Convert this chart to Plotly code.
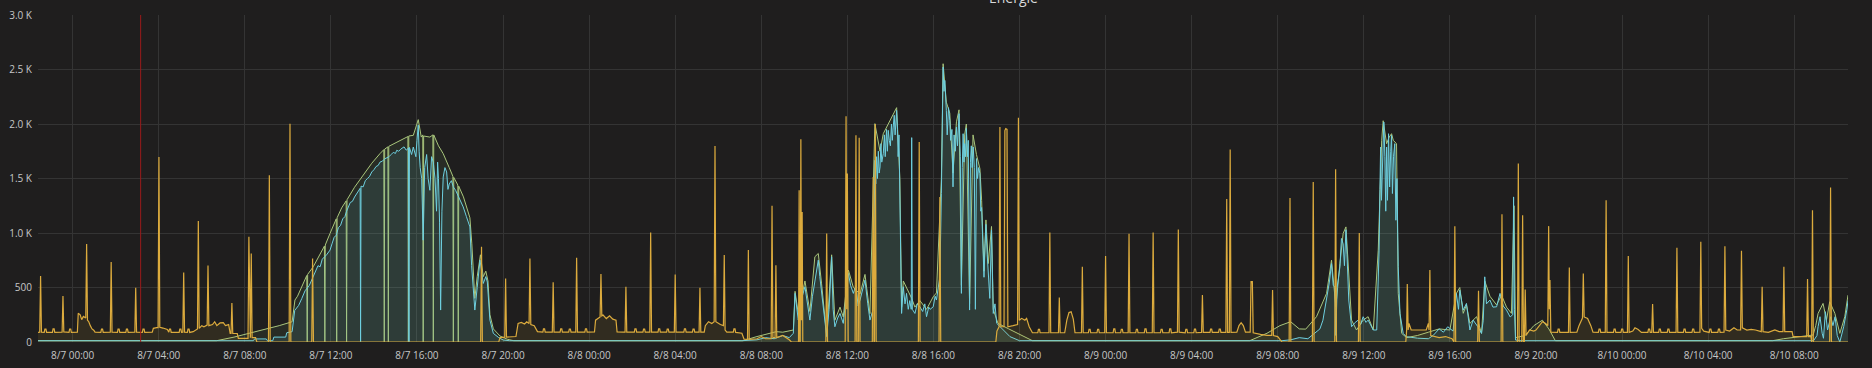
import pandas as pd
import plotly.graph_objects as go

# ---------------- data (hours after 8/7 00:00, watts) ----------------
BASE = pd.Timestamp("2018-08-07 00:00")

tick_hours = [0, 4, 8, 12, 16, 20, 24, 28, 32, 36, 40, 44, 48, 52, 56, 60, 64, 68, 72, 76, 80]
tick_labels = ["8/7 00:00", "8/7 04:00", "8/7 08:00", "8/7 12:00", "8/7 16:00", "8/7 20:00",
               "8/8 00:00", "8/8 04:00", "8/8 08:00", "8/8 12:00", "8/8 16:00", "8/8 20:00",
               "8/9 00:00", "8/9 04:00", "8/9 08:00", "8/9 12:00", "8/9 16:00", "8/9 20:00",
               "8/10 00:00", "8/10 04:00", "8/10 08:00"]
y_ticks = [0, 500, 1000, 1500, 2000, 2500, 3000]
y_tick_labels = ["0", "500", "1.0 K", "1.5 K", "2.0 K", "2.5 K", "3.0 K"]
annotation_hours = [3.16]

yellow_points = [
    (-1.62, 88), (-1.53, 90), (-1.49, 605), (-1.45, 90),
    (-1.32, 88), (-1.29, 118), (-1.24, 118), (-1.21, 88),
    (-0.94, 88), (-0.91, 120), (-0.86, 120), (-0.83, 88),
    (-0.49, 90), (-0.45, 421), (-0.41, 92),
    (-0.17, 88), (-0.14, 118), (-0.09, 118), (-0.06, 88),
    (0.22, 90), (0.26, 263), (0.35, 250), (0.42, 205), (0.5, 235), (0.61, 220), (0.65, 900), (0.69, 200),
    (0.75, 186), (0.82, 150), (0.9, 120), (0.98, 108), (1.04, 90),
    (1.31, 88), (1.34, 118), (1.39, 118), (1.42, 88),
    (1.75, 90), (1.79, 733), (1.83, 90),
    (2.08, 88), (2.11, 118), (2.16, 118), (2.19, 88),
    (2.47, 88), (2.5, 118), (2.55, 118), (2.58, 88),
    (2.89, 90), (2.93, 497), (2.97, 90),
    (3.24, 88), (3.27, 118), (3.32, 118), (3.35, 88),
    (3.7, 90), (3.75, 125), (3.9, 131), (3.97, 131), (4.01, 1697), (4.05, 135), (4.2, 128), (4.4, 115),
    (4.47, 90), (4.5, 118), (4.55, 118), (4.58, 88),
    (4.95, 88), (4.98, 118), (5.03, 118), (5.06, 88),
    (5.12, 90), (5.16, 638), (5.2, 90),
    (5.33, 88), (5.36, 118), (5.41, 118), (5.44, 88),
    (5.6, 95), (5.8, 120), (5.84, 1111), (5.88, 125), (6.0, 150), (6.1, 140), (6.25, 155), (6.29, 702),
    (6.33, 150), (6.5, 160), (6.6, 186), (6.7, 150), (6.85, 175), (7.0, 177), (7.1, 150), (7.25, 160),
    (7.32, 80), (7.36, 80), (7.40, 357), (7.44, 78), (7.65, 78), (7.7, 34), (8.15, 34), (8.19, 965),
    (8.23, 40), (8.26, 40), (8.30, 812), (8.34, 40), (8.5, 40), (8.56, 0),
    (9.10, 0), (9.14, 1530), (9.18, 0), (10.06, 0), (10.10, 2003), (10.14, 0), (11.11, 0), (11.15, 767), (11.19, 0),
    (18.96, 0), (19.0, 873), (19.04, 0),
    (19.8, 0), (19.86, 40), (20.08, 45), (20.12, 583), (20.16, 45), (20.6, 50), (20.7, 170), (20.85, 180),
    (21.0, 165), (21.1, 185), (21.21, 170), (21.25, 767), (21.29, 160), (21.45, 150), (21.6, 95),
    (21.85, 90), (21.88, 120), (21.93, 120), (21.96, 90),
    (22.29, 90), (22.33, 547), (22.37, 90),
    (22.65, 90), (22.68, 120), (22.73, 120), (22.76, 90),
    (23.05, 90), (23.08, 118), (23.13, 118), (23.16, 90),
    (23.38, 90), (23.42, 772), (23.46, 90),
    (23.8, 90), (23.83, 120), (23.88, 120), (23.91, 90),
    (24.25, 92), (24.3, 200), (24.45, 220), (24.51, 230), (24.55, 623), (24.59, 240), (24.65, 247),
    (24.8, 215), (24.95, 240), (25.1, 210), (25.25, 200), (25.3, 92),
    (25.6, 90), (25.67, 90), (25.71, 507), (25.75, 90),
    (26.1, 90), (26.13, 120), (26.18, 120), (26.21, 90),
    (26.5, 90), (26.53, 118), (26.58, 118), (26.61, 90),
    (26.82, 90), (26.86, 1005), (26.9, 90),
    (27.2, 90), (27.23, 120), (27.28, 120), (27.31, 90),
    (27.6, 90), (27.63, 118), (27.68, 118), (27.71, 90),
    (27.96, 90), (28.0, 620), (28.04, 90),
    (28.4, 90), (28.43, 120), (28.48, 120), (28.51, 90),
    (28.8, 90), (28.83, 118), (28.88, 118), (28.91, 90),
    (29.11, 90), (29.15, 497), (29.19, 90),
    (29.35, 90), (29.4, 150), (29.55, 186), (29.7, 170), (29.81, 186), (29.85, 1798), (29.89, 186),
    (30.1, 160), (30.24, 150), (30.28, 797), (30.32, 110), (30.4, 90),
    (30.7, 90), (30.73, 120), (30.78, 120), (30.81, 88), (31.1, 80), (31.2, 25),
    (31.36, 25), (31.4, 843), (31.44, 25), (31.8, 30), (32.0, 50), (32.2, 30), (32.46, 30), (32.5, 1249),
    (32.54, 40), (32.64, 40), (32.68, 705), (32.72, 40), (33.0, 60), (33.3, 20), (33.4, 0),
    (33.73, 0), (33.76, 1392), (33.79, 0), (33.81, 0), (33.84, 1860), (33.87, 200), (33.9, 1193), (33.93, 0),
    (35.0, 0), (35.04, 995), (35.08, 0),
    (35.9, 0), (35.94, 2070), (35.97, 300), (36.0, 1545), (36.04, 0),
    (36.36, 0), (36.4, 1896), (36.44, 0), (36.51, 0), (36.55, 1875), (36.59, 0),
    (37.16, 0), (37.2, 1514), (37.24, 0), (37.26, 0), (37.3, 2000), (37.34, 0),
    (39.3, 0), (39.34, 1835), (39.38, 0),
    (40.26, 0), (40.3, 1331), (40.34, 0),
    (42.9, 0), (42.95, 100), (43.05, 140), (43.09, 1972), (43.13, 140), (43.28, 140), (43.32, 1940),
    (43.36, 1957), (43.42, 1950), (43.46, 140), (43.7, 150), (43.91, 160), (43.95, 2058), (43.99, 200),
    (44.1, 217), (44.25, 200), (44.33, 217), (44.45, 140), (44.6, 85),
    (44.85, 85), (44.88, 116), (44.93, 116), (44.96, 85),
    (45.37, 85), (45.41, 1005), (45.45, 85),
    (45.81, 85), (45.85, 409), (45.89, 85),
    (46.1, 85), (46.2, 200), (46.3, 270), (46.4, 278), (46.5, 210), (46.58, 85),
    (46.88, 85), (46.92, 690), (46.96, 85),
    (47.2, 85), (47.23, 116), (47.28, 116), (47.31, 85),
    (47.6, 85), (47.63, 116), (47.68, 116), (47.71, 85),
    (47.96, 85), (48.0, 788), (48.04, 85),
    (48.35, 85), (48.38, 120), (48.43, 120), (48.46, 85),
    (48.7, 85), (48.73, 116), (48.78, 116), (48.81, 85),
    (49.05, 85), (49.09, 992), (49.13, 85),
    (49.4, 85), (49.43, 116), (49.48, 116), (49.51, 85),
    (49.8, 85), (49.83, 120), (49.88, 120), (49.91, 85),
    (50.17, 85), (50.21, 1005), (50.25, 85),
    (50.55, 85), (50.58, 116), (50.63, 116), (50.66, 85),
    (50.95, 85), (50.98, 120), (51.03, 120), (51.06, 85),
    (51.34, 90), (51.38, 1032), (51.42, 90),
    (51.7, 85), (51.73, 116), (51.78, 116), (51.81, 85),
    (52.1, 85), (52.13, 118), (52.18, 118), (52.21, 85),
    (52.46, 88), (52.5, 430), (52.54, 88),
    (52.85, 88), (52.88, 118), (52.93, 118), (52.96, 88),
    (53.25, 88), (53.28, 118), (53.33, 118), (53.36, 88),
    (53.59, 88), (53.63, 1313), (53.67, 88), (53.75, 88), (53.79, 1765), (53.83, 88),
    (54.1, 90), (54.2, 150), (54.3, 177), (54.4, 150), (54.5, 90),
    (54.72, 90), (54.76, 559), (54.79, 540), (54.82, 559), (54.86, 85),
    (55.2, 70), (55.5, 60), (55.72, 60), (55.76, 476), (55.8, 60), (56.0, 50), (56.2, 0),
    (56.53, 0), (56.57, 1322), (56.61, 0),
    (57.61, 0), (57.65, 1469), (57.69, 0),
    (58.65, 0), (58.69, 1585), (58.73, 0),
    (59.75, 0), (59.79, 1001), (59.83, 0),
    (61.95, 0), (61.99, 110), (62.02, 531), (62.06, 110), (62.1, 171), (62.2, 110), (62.9, 110), (63.0, 171),
    (63.03, 110), (63.07, 660), (63.11, 60), (63.5, 40), (63.8, 50), (64.1, 30), (64.19, 0), (64.23, 1063), (64.27, 0),
    (65.29, 0), (65.33, 470), (65.37, 0),
    (66.38, 0), (66.42, 1172), (66.46, 0),
    (67.14, 0), (67.18, 1637), (67.22, 0), (67.34, 0), (67.38, 1163), (67.42, 0), (67.46, 0), (67.5, 482), (67.54, 60),
    (67.7, 110), (67.9, 100), (68.0, 110), (68.3, 186), (68.45, 170), (68.55, 150), (68.59, 1063), (68.62, 300),
    (68.65, 568), (68.69, 90),
    (69.0, 88), (69.03, 118), (69.08, 118), (69.11, 88),
    (69.51, 88), (69.55, 684), (69.59, 88),
    (69.9, 90), (70.0, 150), (70.16, 220), (70.2, 629), (70.24, 230), (70.4, 215), (70.55, 150), (70.65, 90),
    (70.9, 88), (70.93, 118), (70.98, 118), (71.01, 88),
    (71.22, 88), (71.26, 1301), (71.3, 88),
    (71.6, 88), (71.63, 118), (71.68, 118), (71.71, 88),
    (71.95, 88), (71.98, 118), (72.03, 118), (72.06, 88),
    (72.25, 88), (72.29, 788), (72.33, 88),
    (72.5, 100), (72.6, 130), (72.75, 115), (72.9, 88),
    (73.2, 88), (73.23, 118), (73.28, 118), (73.31, 88),
    (73.38, 88), (73.42, 348), (73.46, 88),
    (73.7, 88), (73.73, 118), (73.78, 118), (73.81, 88),
    (74.1, 88), (74.13, 118), (74.18, 118), (74.21, 88),
    (74.51, 88), (74.55, 864), (74.59, 88),
    (74.85, 88), (74.88, 118), (74.93, 118), (74.96, 88),
    (75.25, 88), (75.28, 118), (75.33, 118), (75.36, 88),
    (75.62, 90), (75.66, 919), (75.7, 125), (75.8, 100),
    (76.05, 88), (76.08, 118), (76.13, 118), (76.16, 88),
    (76.45, 88), (76.48, 118), (76.53, 118), (76.56, 88),
    (76.74, 90), (76.78, 879), (76.82, 110), (77.0, 100), (77.2, 130), (77.35, 110),
    (77.51, 110), (77.55, 836), (77.59, 130), (77.8, 110), (78.0, 115), (78.2, 110),
    (78.47, 95), (78.51, 507), (78.55, 95), (78.8, 88), (79.1, 110), (79.3, 95),
    (79.48, 95), (79.52, 690), (79.56, 95), (79.9, 95), (79.95, 49), (80.58, 49), (80.62, 577), (80.66, 49),
    (80.78, 49), (80.81, 0), (80.85, 1209), (80.89, 0),
    (81.65, 0), (81.69, 1417), (81.73, 0), (82.6, 0),
]

cyan_points = [
    (-1.62, 12), (8.4, 12), (8.45, 28), (9.0, 28), (9.05, 12), (9.3, 12), (9.35, 45), (9.9, 45), (9.95, 85),
    (10.2, 95), (10.32, 290), (10.5, 335), (10.65, 400), (10.8, 470), (11.0, 520), (11.18, 600), (11.3, 640),
    (11.4, 700), (11.5, 690), (11.6, 760), (11.8, 800), (11.96, 843), (12.05, 900), (12.15, 960),
    (12.25, 980), (12.35, 1050), (12.45, 1070), (12.55, 1130), (12.65, 1150), (12.73, 1200), (12.9, 1280),
    (13.0, 1290), (13.1, 1330), (13.2, 1360), (13.3, 1390), (13.36, 1410), (13.38, 0), (13.4, 1430),
    (13.5, 1423), (13.6, 1480), (13.7, 1500), (13.8, 1520), (13.9, 1560), (14.0, 1580), (14.1, 1610),
    (14.2, 1620), (14.28, 1650), (14.4, 1660), (14.5, 1680), (14.6, 1690), (14.7, 1700), (14.8, 1720),
    (14.9, 1740), (15.0, 1730), (15.06, 1759), (15.15, 1750), (15.25, 1770), (15.4, 1790), (15.5, 1760),
    (15.61, 1780), (15.63, 0), (15.65, 1785), (15.75, 1720), (15.83, 1789), (15.95, 1700), (16.0, 1850),
    (16.06, 1990), (16.1, 1750), (16.15, 1600), (16.22, 1500), (16.29, 934), (16.36, 1600), (16.45, 1720),
    (16.52, 1500), (16.6, 1392), (16.68, 1700), (16.76, 1650), (16.84, 1500), (16.91, 1200), (16.96, 1650),
    (17.0, 1500), (17.05, 1100), (17.1, 293), (17.16, 1200), (17.22, 1514), (17.3, 1600), (17.38, 1560),
    (17.44, 1400), (17.5, 1450), (17.6, 1480), (17.69, 1423), (17.8, 1390), (17.9, 1350), (18.0, 1300),
    (18.15, 1239), (18.3, 1150), (18.46, 1056), (18.54, 700), (18.69, 293), (18.8, 500), (18.93, 751),
    (19.08, 537), (19.2, 600), (19.27, 550), (19.39, 201), (19.55, 79), (19.8, 40), (20.01, 18), (20.3, 12),
    (31.1, 12), (31.8, 20), (32.2, 40), (32.6, 30), (33.0, 60), (33.3, 40), (33.49, 80), (33.57, 446),
    (33.72, 201), (33.88, 400), (34.03, 507), (34.15, 350), (34.26, 201), (34.38, 420), (34.49, 568),
    (34.57, 650), (34.65, 751), (34.72, 600), (34.8, 476), (34.88, 350), (34.96, 201), (35.04, 49),
    (35.15, 300), (35.27, 782), (35.34, 300), (35.42, 140), (35.55, 220), (35.66, 262), (35.81, 171),
    (35.93, 420), (36.05, 629), (36.15, 520), (36.28, 446), (36.4, 520), (36.5, 330), (36.59, 385),
    (36.7, 480), (36.82, 568), (36.95, 350), (37.05, 201), (37.2, 300), (37.28, 1667), (37.32, 1450),
    (37.36, 1700), (37.4, 1500), (37.44, 1750), (37.48, 1550), (37.52, 1606), (37.56, 1820), (37.6, 1650),
    (37.67, 1728), (37.72, 1900), (37.76, 1700), (37.82, 1950), (37.86, 1750), (37.9, 1942), (37.95, 1850),
    (38.0, 1800), (38.05, 2000), (38.09, 1850), (38.13, 1972), (38.18, 2080), (38.22, 1900), (38.29, 2125),
    (38.33, 1950), (38.36, 1700), (38.4, 1900), (38.44, 1423), (38.52, 262), (38.6, 507), (38.68, 350),
    (38.75, 446), (38.83, 300), (38.9, 380), (38.97, 300), (38.99, 1875), (39.02, 300), (39.14, 262),
    (39.25, 350), (39.37, 323), (39.5, 280), (39.6, 350), (39.68, 232), (39.78, 320), (39.85, 300),
    (39.99, 323), (40.08, 420), (40.14, 385), (40.3, 600), (40.37, 1362), (40.41, 2000), (40.45, 2522),
    (40.49, 2300), (40.53, 2400), (40.6, 2125), (40.64, 1900), (40.7, 2150), (40.76, 2034), (40.8, 1850),
    (40.86, 1950), (40.91, 1423), (40.96, 1900), (41.02, 1750), (41.07, 1972), (41.12, 1800), (41.19, 2095),
    (41.25, 1700), (41.3, 446), (41.34, 1600), (41.38, 1911), (41.42, 1650), (41.45, 1820), (41.49, 1700),
    (41.53, 1960), (41.58, 1700), (41.62, 1850), (41.68, 293), (41.72, 1650), (41.76, 1800), (41.8, 1600),
    (41.85, 1789), (41.9, 1600), (41.95, 300), (42.0, 1683), (42.05, 1500), (42.1, 1600), (42.16, 1545),
    (42.2, 1200), (42.24, 1234), (42.3, 900), (42.35, 594), (42.4, 900), (42.44, 1079), (42.5, 800),
    (42.55, 655), (42.62, 400), (42.7, 1026), (42.78, 262), (42.86, 350), (42.94, 171), (43.1, 140),
    (43.25, 110), (43.56, 49), (44.0, 12),
    (56.2, 12), (56.6, 20), (57.0, 40), (57.4, 30), (57.7, 80), (57.96, 120), (58.1, 200), (58.27, 385),
    (58.4, 550), (58.5, 720), (58.58, 520), (58.65, 504), (58.7, 60), (58.76, 500), (58.89, 690),
    (58.96, 950), (59.04, 900), (59.1, 700), (59.17, 1030), (59.22, 800), (59.3, 385), (59.43, 140),
    (59.6, 180), (59.74, 201), (59.85, 160), (59.97, 232), (60.1, 180), (60.2, 201), (60.35, 150),
    (60.44, 110), (60.6, 110), (60.71, 843), (60.75, 1400), (60.78, 1789), (60.82, 1300), (60.86, 1500),
    (60.93, 2018), (60.98, 1700), (61.02, 1200), (61.06, 1789), (61.1, 1300), (61.15, 1911), (61.2, 1422),
    (61.25, 1750), (61.29, 1896), (61.33, 1362), (61.38, 1700), (61.44, 1820), (61.49, 1117), (61.54, 1500),
    (61.6, 690), (61.68, 262), (61.83, 79), (61.98, 49),
    (62.5, 35), (63.0, 30), (63.22, 60), (63.5, 120), (63.7, 90), (63.9, 140), (64.15, 100), (64.3, 446),
    (64.4, 300), (64.46, 476), (64.62, 293), (64.77, 354), (64.93, 110), (65.08, 201), (65.3, 140),
    (65.47, 79), (65.55, 200), (65.62, 598), (65.7, 350), (65.86, 385), (66.0, 320), (66.17, 323),
    (66.33, 446), (66.48, 330), (66.63, 293), (66.8, 230), (66.92, 250), (66.96, 1331), (67.0, 300),
    (67.05, 18), (67.3, 12),
    (80.9, 12), (81.06, 60), (81.11, 141), (81.2, 232), (81.3, 80), (81.36, 34), (81.45, 278), (81.55, 110),
    (81.7, 232), (81.8, 150), (81.9, 232), (82.0, 60), (82.12, 0), (82.3, 141), (82.45, 300), (82.5, 380),
]

green_points = [
    (-1.62, 12), (6.69, 12), (7.5, 45), (8.3, 85), (9.0, 118), (9.6, 150), (10.2, 186), (10.33, 385),
    (10.45, 420), (10.7, 530), (10.88, 610), (10.9, 0), (10.92, 620), (11.18, 690), (11.4, 770), (11.6, 850),
    (11.7, 880), (11.72, 0), (11.74, 890), (11.96, 996), (12.15, 1080), (12.25, 1130), (12.27, 0),
    (12.29, 1140), (12.5, 1230), (12.71, 1295), (12.73, 0), (12.75, 1305), (13.1, 1420), (13.5, 1530),
    (13.9, 1640), (14.28, 1728), (14.46, 1765), (14.48, 0), (14.5, 1770), (14.65, 1790), (14.67, 0),
    (14.69, 1795), (15.06, 1835), (15.4, 1870), (15.58, 1885), (15.6, 0), (15.62, 1890), (15.83, 1896),
    (16.06, 2040), (16.2, 1880), (16.27, 1900), (16.29, 0), (16.31, 1890), (16.6, 1880), (16.74, 1900),
    (16.76, 0), (16.78, 1900), (17.0, 1800), (17.22, 1728), (17.5, 1600), (17.67, 1520), (17.69, 0),
    (17.71, 1510), (17.9, 1440), (17.92, 0), (17.94, 1430), (18.16, 1331), (18.46, 1140), (18.55, 900),
    (18.69, 400), (18.8, 600), (18.95, 800), (19.08, 600), (19.2, 650), (19.3, 560), (19.39, 250),
    (19.55, 120), (19.86, 55), (20.2, 25), (20.5, 12),
    (31.15, 12), (31.8, 50), (32.4, 80), (32.7, 95), (33.0, 90), (33.3, 100), (33.49, 110), (33.57, 465),
    (33.72, 260), (34.03, 560), (34.26, 280), (34.49, 782), (34.65, 812), (34.8, 540), (34.96, 260),
    (35.04, 60), (35.27, 800), (35.42, 200), (35.66, 320), (35.81, 230), (36.05, 660), (36.28, 500),
    (36.59, 440), (36.82, 620), (37.05, 260), (37.2, 1600), (37.28, 2003), (37.52, 1750), (37.67, 1911),
    (37.9, 2000), (38.13, 2095), (38.29, 2150), (38.44, 1500), (38.52, 320), (38.6, 560), (38.75, 500),
    (38.99, 400), (39.14, 320), (39.37, 380), (39.68, 300), (39.99, 415), (40.14, 450), (40.37, 1500),
    (40.45, 2553), (40.6, 2200), (40.76, 2100), (40.91, 1550), (41.07, 2020), (41.19, 2130), (41.3, 520),
    (41.45, 1900), (41.53, 2000), (41.68, 350), (41.84, 1900), (42.0, 1720), (42.16, 1590), (42.24, 1300),
    (42.35, 650), (42.44, 1120), (42.55, 720), (42.7, 1060), (42.78, 300), (43.0, 171), (43.5, 120),
    (44.0, 70), (44.6, 12),
    (54.7, 12), (55.5, 80), (56.1, 150), (56.6, 186), (57.0, 120), (57.3, 118), (57.8, 232), (58.27, 446),
    (58.5, 751), (58.6, 532), (58.7, 323), (58.89, 721), (59.04, 996), (59.17, 1056), (59.28, 690),
    (59.43, 201), (59.66, 110), (59.97, 201), (60.2, 232), (60.44, 110), (60.67, 843), (60.83, 1850),
    (60.9, 2030), (61.06, 1819), (61.18, 1880), (61.29, 1911), (61.37, 1850), (61.52, 1819), (61.6, 446),
    (61.76, 79), (61.99, 40), (62.5, 60), (63.0, 90), (63.5, 120), (64.0, 110), (64.3, 446), (64.46, 500),
    (64.62, 263), (64.77, 340), (64.93, 171), (65.24, 232), (65.47, 79), (65.62, 560), (65.86, 420),
    (66.17, 340), (66.4, 430), (66.63, 320), (66.86, 263), (66.98, 1250), (67.05, 40), (67.5, 60),
    (67.9, 150), (68.3, 200), (68.6, 120), (68.9, 12),
    (79.0, 12), (79.5, 30), (80.0, 45), (80.5, 55), (80.88, 64), (81.0, 150), (81.11, 262), (81.34, 354),
    (81.5, 201), (81.65, 369), (81.89, 262), (82.12, 79), (82.35, 232), (82.5, 430),
]

# ---------------- figure ----------------
BG = "#1f1e1e"
GRID = "#343434"
TEXT = "#c6c7c8"


def to_time(hours):
    return [BASE + pd.Timedelta(hours=h) for h in hours]


def add_series(points, line_color, fill_color, width):
    hours = [p[0] for p in points]
    watts = [p[1] for p in points]
    fig.add_trace(go.Scatter(
        x=to_time(hours), y=watts, mode="lines",
        line=dict(color=line_color, width=width),
        fill="tozeroy", fillcolor=fill_color, hoverinfo="skip",
    ))


fig = go.Figure()
add_series(green_points, "#a9c67c", "rgba(126,178,109,0.10)", 1)
add_series(cyan_points, "#6ed0e0", "rgba(110,208,224,0.10)", 1)
add_series(yellow_points, "#dcab3d", "rgba(234,184,57,0.09)", 1.2)

for h in annotation_hours:
    t = BASE + pd.Timedelta(hours=h)
    fig.add_shape(type="line", xref="x", yref="paper", x0=t, x1=t, y0=0, y1=1,
                  line=dict(color="#9a1a1a", width=1), layer="above")

fig.add_annotation(text="Energie", xref="paper", yref="paper", x=0.539, y=1.052,
                   showarrow=False, xanchor="center", yanchor="middle",
                   font=dict(family="Open Sans", size=14, color="#d8d9da"))

fig.update_layout(
    width=1872, height=368,
    margin=dict(l=38, r=24, t=15, b=26, autoexpand=False),
    paper_bgcolor=BG, plot_bgcolor=BG,
    showlegend=False, hovermode=False,
    font=dict(family="Open Sans", size=10, color=TEXT),
)
fig.update_xaxes(
    automargin=False,
    range=[BASE + pd.Timedelta(hours=-1.61), BASE + pd.Timedelta(hours=82.5)],
    tickvals=to_time(tick_hours), ticktext=tick_labels,
    showgrid=True, gridcolor=GRID, gridwidth=1, zeroline=False, showline=False,
    ticks="outside", ticklen=4, tickcolor=BG, tickfont=dict(size=10, color=TEXT),
)
fig.update_yaxes(
    automargin=False,
    range=[0, 3000], tickvals=y_ticks, ticktext=y_tick_labels,
    showgrid=True, gridcolor=GRID, gridwidth=1, zeroline=False, showline=False,
    ticks="outside", ticklen=3, tickcolor=BG, tickfont=dict(size=10, color=TEXT),
)

fig.write_html("out.html")
